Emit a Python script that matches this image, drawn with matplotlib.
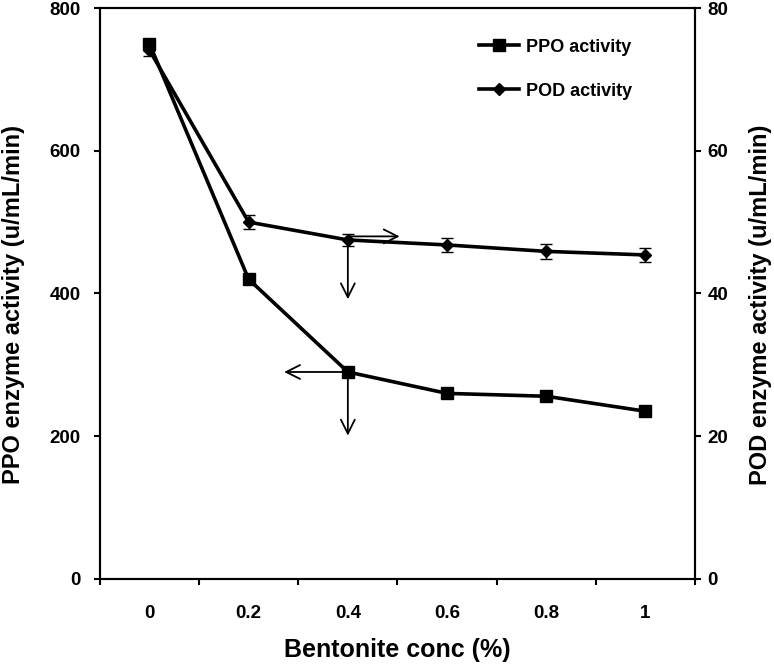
import matplotlib.pyplot as plt
from matplotlib.lines import Line2D
import numpy as np

plt.rcParams['font.family'] = ['Liberation Sans', 'DejaVu Sans']
plt.rcParams['font.weight'] = 'bold'

## data
conc = ['0', '0.2', '0.4', '0.6', '0.8', '1']
ppo = [750, 420, 290, 260, 256, 235]
ppo_err = [6, 6, 6, 5, 5, 5]
pod = [74.1, 50.0, 47.5, 46.8, 45.9, 45.4]
pod_err = [0.8, 1.0, 0.9, 1.0, 1.0, 1.0]

x = np.arange(len(conc))

fig = plt.figure(figsize=(7.74, 6.67), dpi=100)
ax = fig.add_axes([0.129, 0.132, 0.769, 0.856])
ax2 = ax.twinx()

## PPO on the left axis, POD on the right
ax.errorbar(x, ppo, yerr=ppo_err, color='black', lw=2.6, marker='s', ms=9,
            capsize=4, elinewidth=1, capthick=1)
ax2.errorbar(x, pod, yerr=pod_err, color='black', lw=2.6, marker='D', ms=6,
             capsize=4, elinewidth=1, capthick=1)

ax.set_xlim(-0.5, len(conc) - 0.5)
ax.set_ylim(0, 800)
ax2.set_ylim(0, 80)
ax.set_yticks([0, 200, 400, 600, 800])
ax2.set_yticks([0, 20, 40, 60, 80])

## category axis: labels at centers, tick marks on boundaries
ax.set_xticks(x)
ax.set_xticklabels(conc)
ax.set_xticks(np.arange(-0.5, len(conc)), minor=True)
ax.tick_params(axis='x', which='major', length=0, pad=19, labelsize=13.5)
ax.tick_params(axis='x', which='minor', length=4, width=1.5, direction='out')
ax.tick_params(axis='y', length=4, width=1.5, pad=10, labelsize=13.5)
ax2.tick_params(axis='y', length=4, width=1.5, pad=5, labelsize=13.5)

for a in (ax, ax2):
    for s in a.spines.values():
        s.set_linewidth(1.5)

ax.set_xlabel('Bentonite conc (%)', fontsize=18, fontweight='bold')
ax.set_ylabel('PPO enzyme activity (u/mL/min)', fontsize=17, fontweight='bold')
ax2.set_ylabel('POD enzyme activity (u/mL/min)', fontsize=17, fontweight='bold')
ax.xaxis.set_label_coords(0.5, -0.103)
ax.yaxis.set_label_coords(-0.126, 0.48)
ax2.yaxis.set_label_coords(1.09, 0.48)

## arrows showing which axis each curve belongs to
arw = dict(arrowstyle='->,head_length=1.0,head_width=0.5', color='black', lw=1.3)
ax.annotate('', xy=(1.33, ppo[2]), xytext=(x[2], ppo[2]), arrowprops=arw)
ax.annotate('', xy=(x[2], 197), xytext=(x[2], ppo[2]), arrowprops=arw)
ax2.annotate('', xy=(2.55, pod[2] + 0.5), xytext=(x[2], pod[2] + 0.5), arrowprops=arw)
ax2.annotate('', xy=(x[2], 38.8), xytext=(x[2], pod[2]), arrowprops=arw)

h1 = Line2D([], [], color='black', lw=2.6, marker='s', ms=8)
h2 = Line2D([], [], color='black', lw=2.6, marker='D', ms=6)
ax.legend([h1, h2], ['PPO activity', 'POD activity'], loc='upper left',
          bbox_to_anchor=(0.61, 0.975), frameon=False, fontsize=13,
          handlelength=2.2, handletextpad=0.4, labelspacing=1.5)

plt.savefig('out.png', dpi=100)
